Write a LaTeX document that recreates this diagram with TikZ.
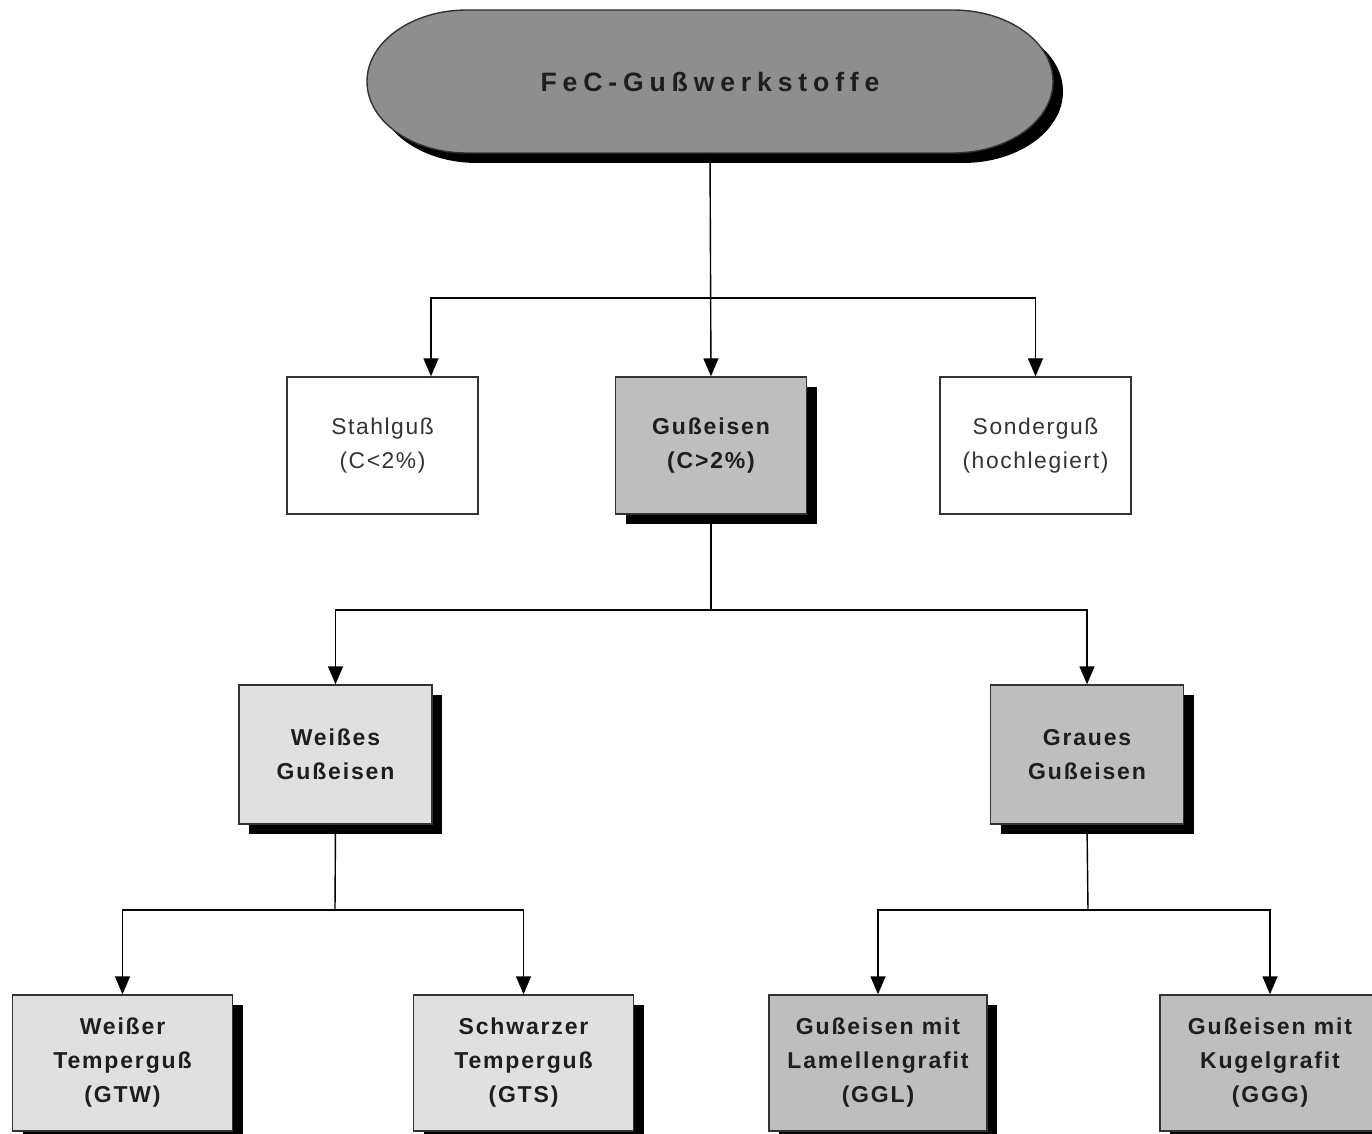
\documentclass[tikz,border=0pt]{standalone}
\usepackage{fontspec}
\setmainfont{Liberation Sans}
\newfontfamily\spacedfont[LetterSpace=8]{Liberation Sans}
\newfontfamily\plainspaced[LetterSpace=7]{Liberation Sans}
\newfontfamily\titlefont[LetterSpace=22]{Liberation Sans}
\usetikzlibrary{arrows.meta,shadows}
\definecolor{midgray}{HTML}{BEBEBE}
\definecolor{lightgray}{HTML}{E0E0E0}
\definecolor{topgray}{HTML}{8E8E8E}
\definecolor{txt}{HTML}{1E1E1E}
\tikzset{
  box/.style={rectangle, draw=black!80, line width=0.7pt, align=center, inner sep=0pt, text=txt},
  plainbox/.style={box, fill=white, font=\plainspaced\fontsize{11.4}{17}\selectfont, text=black!80},
  shadowed/.style={drop shadow={shadow xshift=5pt, shadow yshift=-5pt, fill=black, opacity=1}},
  midbox/.style={box, shadowed, fill=midgray, font=\spacedfont\bfseries\fontsize{11.5}{17}\selectfont},
  lightbox/.style={box, shadowed, fill=lightgray, font=\spacedfont\bfseries\fontsize{11.5}{17}\selectfont},
  lvl1/.style={minimum width=95.5pt, minimum height=68.5pt},
  lvl2/.style={minimum width=96.5pt, minimum height=69.5pt},
  lvl3/.style={minimum width=110pt, minimum height=68pt},
  conn/.style={line width=0.7pt, draw=black},
  arr/.style={conn, -{Triangle[width=7.5pt,length=9pt]}},
}
\begin{document}
\begin{tikzpicture}[x=0.5pt, y=-0.5pt]
\useasboundingbox (0,0) rectangle (1372,1134);
\clip (0,0) rectangle (1372,1134);
% top stadium shape
\fill[black] (477,20) -- (963,20) arc[start angle=90, end angle=-90, x radius=50pt, y radius=35.75pt]
  -- (477,163) arc[start angle=270, end angle=90, x radius=50pt, y radius=35.75pt] -- cycle;
\filldraw[fill=topgray, draw=black!80, line width=0.7pt] (467,10) -- (953,10) arc[start angle=90, end angle=-90, x radius=50pt, y radius=35.75pt]
  -- (467,153) arc[start angle=270, end angle=90, x radius=50pt, y radius=35.75pt] -- cycle;
\node[minimum width=343pt, minimum height=71.5pt, inner sep=0pt, text=txt,
  font=\titlefont\bfseries\fontsize{13.3}{15}\selectfont] (top) at (710,81.5) {FeC-Gußwerkstoffe};

% level 1
\node[plainbox, lvl1] (stahl) at (382.5,445.5) {Stahlguß\\(C<2\%)};
\node[midbox, lvl1] (gus) at (711,445.5) {Gußeisen\\(C>2\%)};
\node[plainbox, lvl1] (sonder) at (1035.5,445.5) {Sonderguß\\(hochlegiert)};

% level 2
\node[lightbox, lvl2] (weiss) at (335.5,754.5) {Weißes\\Gußeisen};
\node[midbox, lvl2] (grau) at (1087,754.5) {Graues\\Gußeisen};

% level 3
\node[lightbox, lvl3] (gtw) at (122.5,1063) {Weißer\\Temperguß\\(GTW)};
\node[lightbox, lvl3] (gts) at (523.5,1063) {Schwarzer\\Temperguß\\(GTS)};
\node[midbox, minimum width=109pt, minimum height=68pt] (ggl) at (878,1063) {Gußeisen mit\\Lamellengrafit\\(GGL)};
\node[midbox, lvl3] (ggg) at (1270,1063) {Gußeisen mit\\Kugelgrafit\\(GGG)};

% bus coordinates
\coordinate (b1) at (710,298);
\coordinate (b2) at (711,610);
\coordinate (b3) at (335,910);
\coordinate (b4) at (1088,910);

% connectors
\draw[arr] (top.south) -- (gus.north);
\draw[arr] (b1) -| ([xshift=24.25pt]stahl.north);
\draw[arr] (b1) -| (sonder.north);

\draw[conn] (gus.south) -- (b2);
\draw[arr] (b2) -| (weiss.north);
\draw[arr] (b2) -| (grau.north);

\draw[conn] (weiss.south) -- (b3);
\draw[arr] (b3) -| (gtw.north);
\draw[arr] (b3) -| (gts.north);

\draw[conn] (grau.south) -- (b4);
\draw[arr] (b4) -| (ggl.north);
\draw[arr] (b4) -| (ggg.north);
\end{tikzpicture}
\end{document}
